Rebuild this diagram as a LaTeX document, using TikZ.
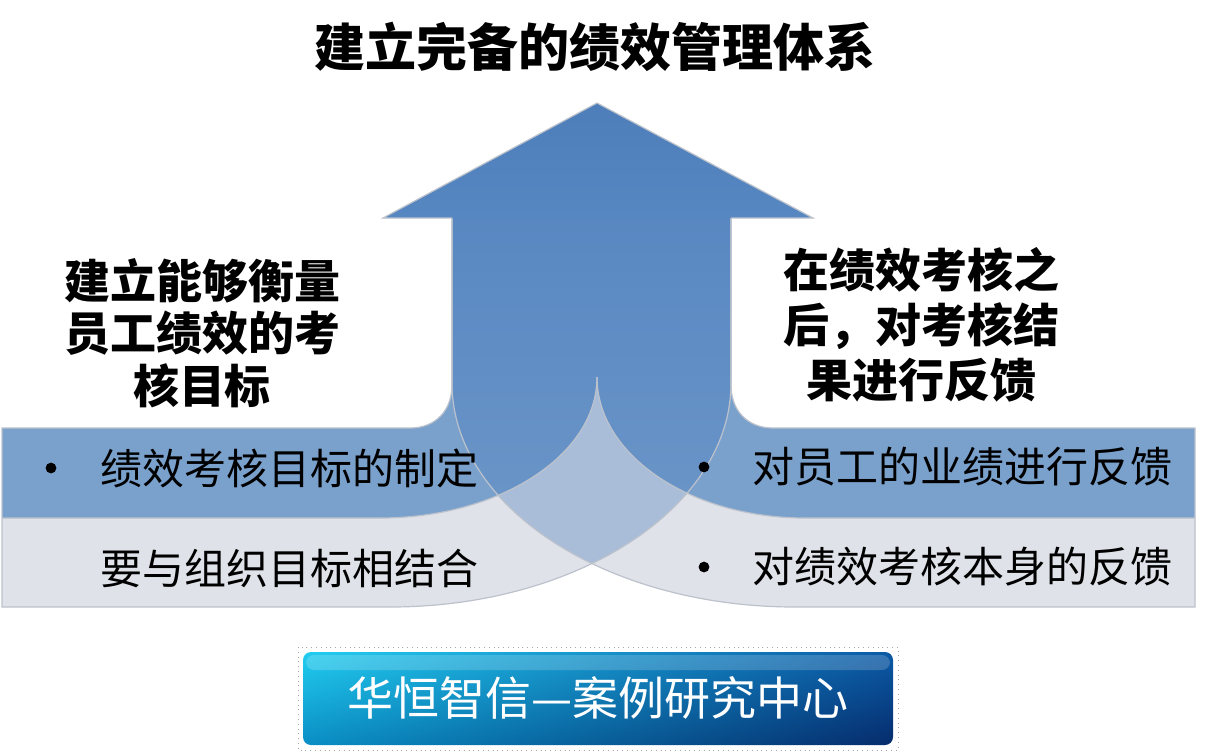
\documentclass[tikz,border=0pt]{standalone}
\usepackage{fontspec}
\setmainfont{Noto Sans CJK SC}
\usetikzlibrary{shadings}

\definecolor{pitabiru}{HTML}{7AA1CC}
\definecolor{pitaabu}{HTML}{DFE2E8}
\definecolor{lensa}{HTML}{A9BDD9}
\definecolor{batangatas}{HTML}{5887C1}
\definecolor{batangbawah}{HTML}{6F99CA}
\definecolor{kepalaatas}{HTML}{4E7EBA}
\definecolor{kepalabawah}{HTML}{5787C1}
\definecolor{garisabu}{HTML}{BCC2CC}
\definecolor{spkiriatas}{HTML}{22CDF0}
\definecolor{spkiribawah}{HTML}{0A8EC4}
\definecolor{spkananatas}{HTML}{0B5AA6}
\definecolor{spkananbawah}{HTML}{062C6C}

% jalur panah kiri dan kanan (satuan piksel, sumbu y ke bawah)
\newcommand{\kiriluar}{(2,428) -- (410,428) .. controls (436,428) and (452,410) .. (452,385)
  -- (452,210) -- (731,210) -- (731,383) .. controls (731,506.7) and (578.3,607) .. (390,607)
  -- (2,607) -- cycle}
\newcommand{\kiribiru}{(2,428) -- (410,428) .. controls (436,428) and (452,410) .. (452,385)
  -- (452,210) -- (597,210) -- (597,377) .. controls (597,454.9) and (499.9,518) .. (380,518)
  -- (2,518) -- cycle}
\newcommand{\kiriabu}{(2,518) -- (380,518) .. controls (499.9,518) and (597,454.9) .. (597,377)
  -- (597,210) -- (731,210) -- (731,383) .. controls (731,506.7) and (578.3,607) .. (390,607)
  -- (2,607) -- cycle}
\newcommand{\kananluar}{(1195,428) -- (773,428) .. controls (747,428) and (731,410) .. (731,385)
  -- (731,210) -- (452,210) -- (452,383) .. controls (452,506.7) and (605.6,607) .. (795,607)
  -- (1195,607) -- cycle}
\newcommand{\kananbiru}{(1195,428) -- (773,428) .. controls (747,428) and (731,410) .. (731,385)
  -- (731,210) -- (597,210) -- (597,377) .. controls (597,454.9) and (690.1,518) .. (805,518)
  -- (1195,518) -- cycle}
\newcommand{\kananabu}{(1195,518) -- (805,518) .. controls (690.1,518) and (597,454.9) .. (597,377)
  -- (597,210) -- (452,210) -- (452,383) .. controls (452,506.7) and (605.6,607) .. (795,607)
  -- (1195,607) -- cycle}

\begin{document}
\begin{tikzpicture}[x=0.5pt,y=-0.5pt,
      garis/.style={draw=garisabu,line width=0.6pt},
      judulteks/.style={font=\fontsize{25.5}{30}\selectfont\bfseries,inner sep=0pt},
      kepalateks/.style={align=center,inner sep=0pt},
      butir/.style={font=\fontsize{21}{24}\selectfont,anchor=west,inner sep=0pt},
      titik/.style={circle,fill=black,inner sep=0pt,minimum size=5.4pt},
      spanduk/.style={font=\fontsize{23}{26}\selectfont,text=white,inner sep=0pt}]

    \useasboundingbox (0,0) rectangle (1206,752);

    % --- Dua pita melengkung: bagian biru di dalam, abu di luar --------------
    \fill[pitaabu] \kiriabu;
    \fill[pitabiru] \kiribiru;
    \fill[pitaabu] \kananabu;
    \fill[pitabiru] \kananbiru;
    % Daerah tumpang tindih kedua panah lebih gelap.
    \begin{scope}
      \clip \kiriluar;
      \shade[top color=batangatas,bottom color=batangbawah] \kananluar;
    \end{scope}
    % Lensa di tengah: kedua bagian abu bertumpuk (hanya di bawah ujung lancip).
    \begin{scope}
      \clip (0,378) rectangle (1206,752);
      \clip \kiriabu;
      \fill[lensa] \kananabu;
    \end{scope}

    % --- Garis tepi ---------------------------------------------------------
    \draw[garis] \kiriluar;
    \draw[garis] \kananluar;
    \draw[garis] (2,518) -- (380,518) .. controls (499.9,518) and (597,454.9) .. (597,377);
    \draw[garis] (1195,518) -- (805,518) .. controls (690.1,518) and (597,454.9) .. (597,377);

    % --- Kepala panah -------------------------------------------------------
    \shade[top color=kepalaatas,bottom color=kepalabawah]
      (383,218) -- (597,103) -- (813,218) -- cycle;
    \draw[garis] (452,218) -- (383,218) -- (597,103) -- (813,218) -- (731,218);

    % --- Teks ---------------------------------------------------------------
    \node[judulteks] (judul) at (595,47) {建立完备的绩效管理体系};
    \node[kepalateks,font=\fontsize{23}{26.25}\selectfont\bfseries] (tujuan) at (202,333)
      {建立能够衡量\\员工绩效的考\\核目标};
    \node[kepalateks,font=\fontsize{23}{27.5}\selectfont\bfseries] (umpan) at (921,325)
      {在绩效考核之\\后，对考核结\\果进行反馈};

    \node[titik] (titika) at (51,468) {};
    \node[butir] (butira) at (100,468) {绩效考核目标的制定};
    \node[butir] (butirb) at (100,568) {要与组织目标相结合};
    \node[titik] (titikc) at (704,467) {};
    \node[butir] (butirc) at (752,467) {对员工的业绩进行反馈};
    \node[titik] (titikd) at (704,567) {};
    \node[butir] (butird) at (752,567) {对绩效考核本身的反馈};

    % --- Spanduk bawah ------------------------------------------------------
    \draw[dotted,gray!70] (298,647) rectangle (898,750);
    \shade[rounded corners=4pt,upper left=spkiriatas,upper right=spkananatas,
      lower left=spkiribawah,lower right=spkananbawah]
      (303,652) rectangle (893,745);
    \fill[white,opacity=0.18,rounded corners=4pt] (306,655) rectangle (890,670);
    \node[spanduk] (pusat) at (598,698) {华恒智信—案例研究中心};
  \end{tikzpicture}
\end{document}
